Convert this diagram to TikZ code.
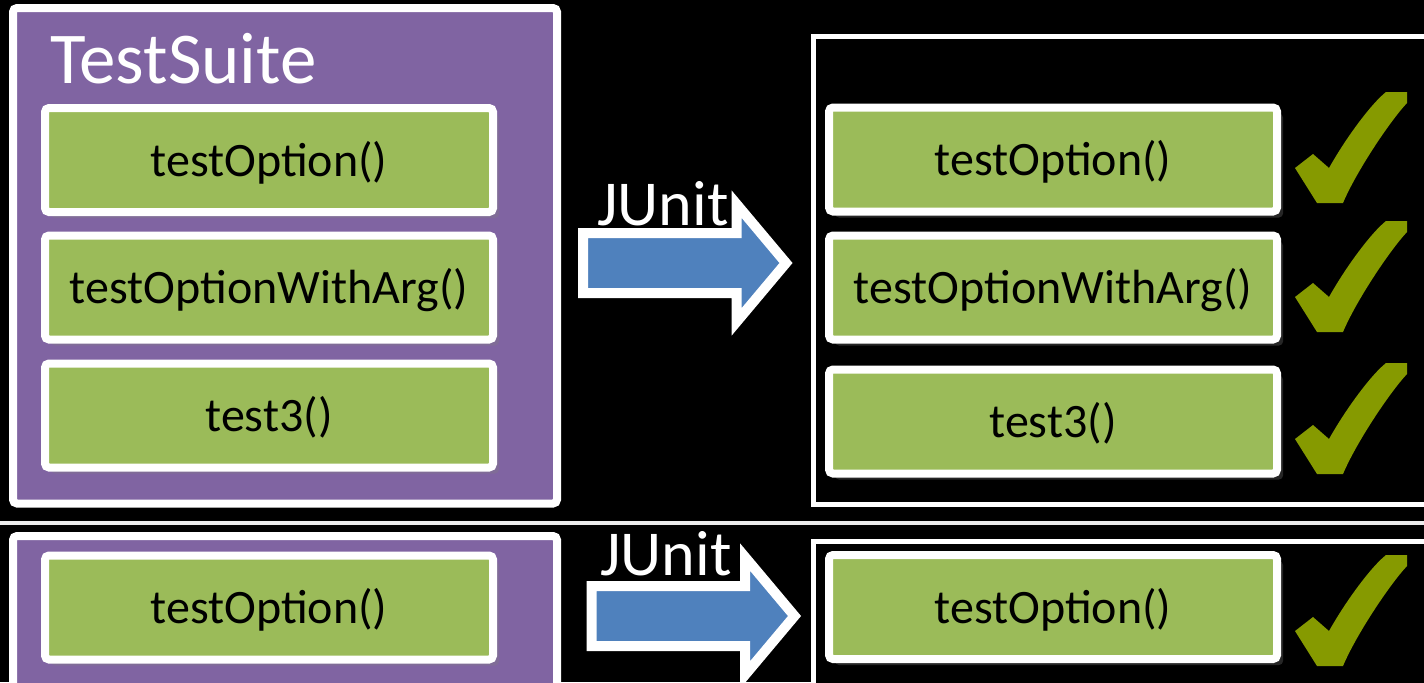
\documentclass[tikz,border=0pt]{standalone}
\usepackage{fontspec}
\setmainfont{Carlito}
\usetikzlibrary{shapes.arrows, positioning, shadows}

\definecolor{suitepurple}{RGB}{128,100,162}
\definecolor{testgreen}{RGB}{155,187,89}
\definecolor{runblue}{RGB}{79,129,189}
\definecolor{passgreen}{RGB}{134,154,0}

% check mark, drawn from its top left corner
\tikzset{
  tick/.pic={
    \fill[passgreen] (91,0) -- (112,0) -- (112,11)
      .. controls (95,29) and (61,80) .. (48,111) -- (22,111) -- (0,76)
      -- (18,62) -- (34,76) .. controls (52,44) and (77,11) .. cycle;
  }
}

\begin{document}
\begin{tikzpicture}[
    x=0.5pt, y=-0.5pt,
    suite/.style={rectangle, draw=white, line width=4pt, fill=suitepurple, rounded corners=2pt, minimum width=272pt},
    results/.style={rectangle, draw=white, line width=2.5pt, fill=black, minimum width=318.5pt},
    testcase/.style={rectangle, draw=white, line width=4pt, fill=testgreen, rounded corners=2pt, minimum width=224pt, minimum height=52pt, align=center, text=black, text height=16pt, text depth=0pt, font=\fontsize{24}{28}\selectfont, drop shadow={shadow xshift=3pt, shadow yshift=-3pt, opacity=0.3}},
    runner/.style={single arrow, draw=white, line width=5pt, fill=runblue, minimum height=101.5pt, minimum width=54pt, inner xsep=0pt, inner ysep=12.5pt, single arrow head extend=14.5pt, single arrow tip angle=100, outer sep=0pt, anchor=tail},
    runlabel/.style={text=white, font=\fontsize{32}{36}\selectfont, anchor=base west, inner sep=0pt}
]
\useasboundingbox (0,0) rectangle (1424,682);
\clip (0,0) rectangle (1424,682);
\fill[black] (0,0) rectangle (1424,682);

% whole suite
\node[suite, minimum height=247.75pt] (suite) at (285,255.75) {};
\node[text=white, font=\fontsize{36.5}{42}\selectfont, anchor=base west, inner sep=0pt] (suitename) at (50,83) {TestSuite};
\node[testcase] (opt) at (269,160) {testOption()};
\node[testcase] (optarg) at (269,287.5) {testOptionWithArg()};
\node[testcase] (three) at (269,415.5) {test3()};

\node[runner] (run) at (583,263) {};
\node[runlabel] (junit) at (597,225) {JUnit};

\node[results, minimum height=233.75pt] (report) at (1131.5,270.25) {};
\node[testcase] (optok) at (1053,159.5) {testOption()};
\node[testcase] (optargok) at (1053,287.5) {testOptionWithArg()};
\node[testcase] (threeok) at (1053,421.5) {test3()};
\pic at (1295,92) {tick};
\pic at (1295,221) {tick};
\pic at (1295,363) {tick};

\draw[white!85!gray, line width=2pt] (0,523) -- (1424,523);

% single test
\node[suite, minimum height=92pt] (single) at (285,628) {};
\node[testcase] (singleopt) at (269,607.5) {testOption()};

\node[runner] (runsingle) at (591.5,616) {};
\node[runlabel] (junitsingle) at (600,575) {JUnit};

\node[results, minimum height=89.25pt] (singlereport) at (1131.5,630.75) {};
\node[testcase] (singleok) at (1053,607) {testOption()};
\pic at (1295,555) {tick};
\end{tikzpicture}
\end{document}
